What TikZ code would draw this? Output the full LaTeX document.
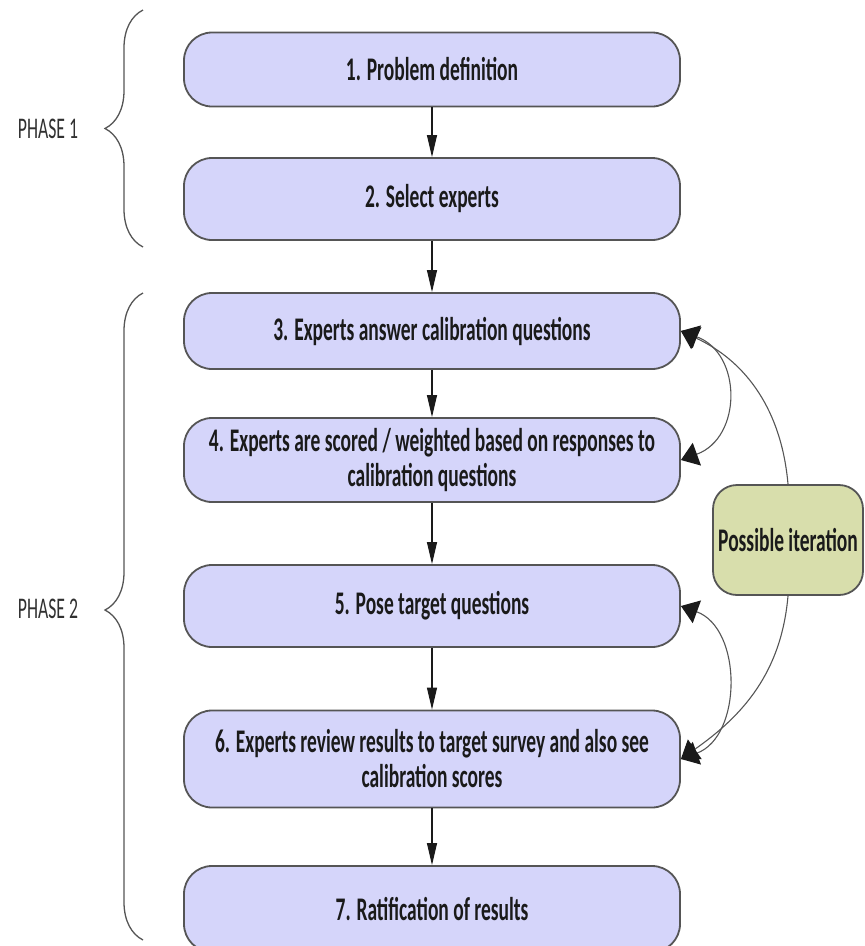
\documentclass[tikz,border=0pt]{standalone}
\usepackage{fontspec}
\setmainfont[FakeStretch=0.59]{Carlito}
\usepackage{xcolor}
\usetikzlibrary{arrows.meta,decorations.pathreplacing}
\definecolor{cbox}{HTML}{D5D5FA}
\definecolor{citer}{HTML}{D8DEAC}
\definecolor{cline}{HTML}{555555}
\definecolor{ctext}{HTML}{1A1A1A}

\begin{document}
\begin{tikzpicture}[x=1pt,y=-1pt,
  stepbox/.style={draw=cline,line width=1.8pt,fill=cbox,rounded corners=28pt,minimum width=496pt,align=center,text=ctext,font=\fontsize{33}{35}\selectfont\bfseries},
  flow/.style={-{Triangle[length=22pt,width=10pt]},line width=1.1pt,ctext},
  loop/.style={{Triangle[length=17pt,width=24pt,color=ctext]}-{Triangle[length=17pt,width=24pt,color=ctext]},line width=1.1pt,cline},
  back/.style={-{Triangle[length=17pt,width=24pt,color=ctext]},line width=1.1pt,cline},
  brace/.style={decorate,decoration={brace,amplitude=38pt},line width=1.3pt,cline},
  phase/.style={text=ctext!90,font=\fontsize{30}{32}\selectfont}]
  \useasboundingbox (0,0) rectangle (865,946);

  % the seven steps
  \node[stepbox,minimum height=74pt] (def) at (432,69.5) {1. Problem definition};
  \node[stepbox,minimum height=82pt] (sel) at (432,199) {2. Select experts};
  \node[stepbox,minimum height=76pt] (calib) at (432,331) {3. Experts answer calibration questions};
  \node[stepbox,minimum height=84pt] (score) at (432,460) {4. Experts are scored / weighted based on responses to\\calibration questions};
  \node[stepbox,minimum height=82pt] (target) at (432,606) {5. Pose target questions};
  \node[stepbox,minimum height=97pt] (review) at (432,759) {6. Experts review results to target survey and also see\\calibration scores};
  \node[stepbox,minimum height=86pt] (ratif) at (432,909) {7. Ratification of results};
  \node[draw=cline,line width=1.8pt,fill=citer,rounded corners=24pt,minimum width=150pt,minimum height=110pt,inner sep=3pt,text=ctext,font=\fontsize{33}{35}\selectfont\bfseries] (iter) at (788,540) {Possible iteration};

  \foreach \a/\b in {def/sel,sel/calib,calib/score,score/target,target/review,review/ratif}
    \draw[flow] (\a) -- (\b);

  % iteration loops
  \draw[loop] (calib.east) to[out=-20,in=20,looseness=1.3] (score.east);
  \draw[loop] (target.east) to[out=-20,in=20,looseness=1.1] (review.east);
  \draw[back] (iter.north) to[out=95,in=-25] (calib.east);
  \draw[back] (iter.south) to[out=-95,in=35] (review.east);

  % phases
  \draw[brace] (143,247) -- (143,10);
  \draw[brace,decoration={aspect=0.51}] (143,940) -- (143,293);
  \node[phase] (ph1) at (48,129) {PHASE 1};
  \node[phase] (ph2) at (48,609) {PHASE 2};
\end{tikzpicture}
\end{document}
